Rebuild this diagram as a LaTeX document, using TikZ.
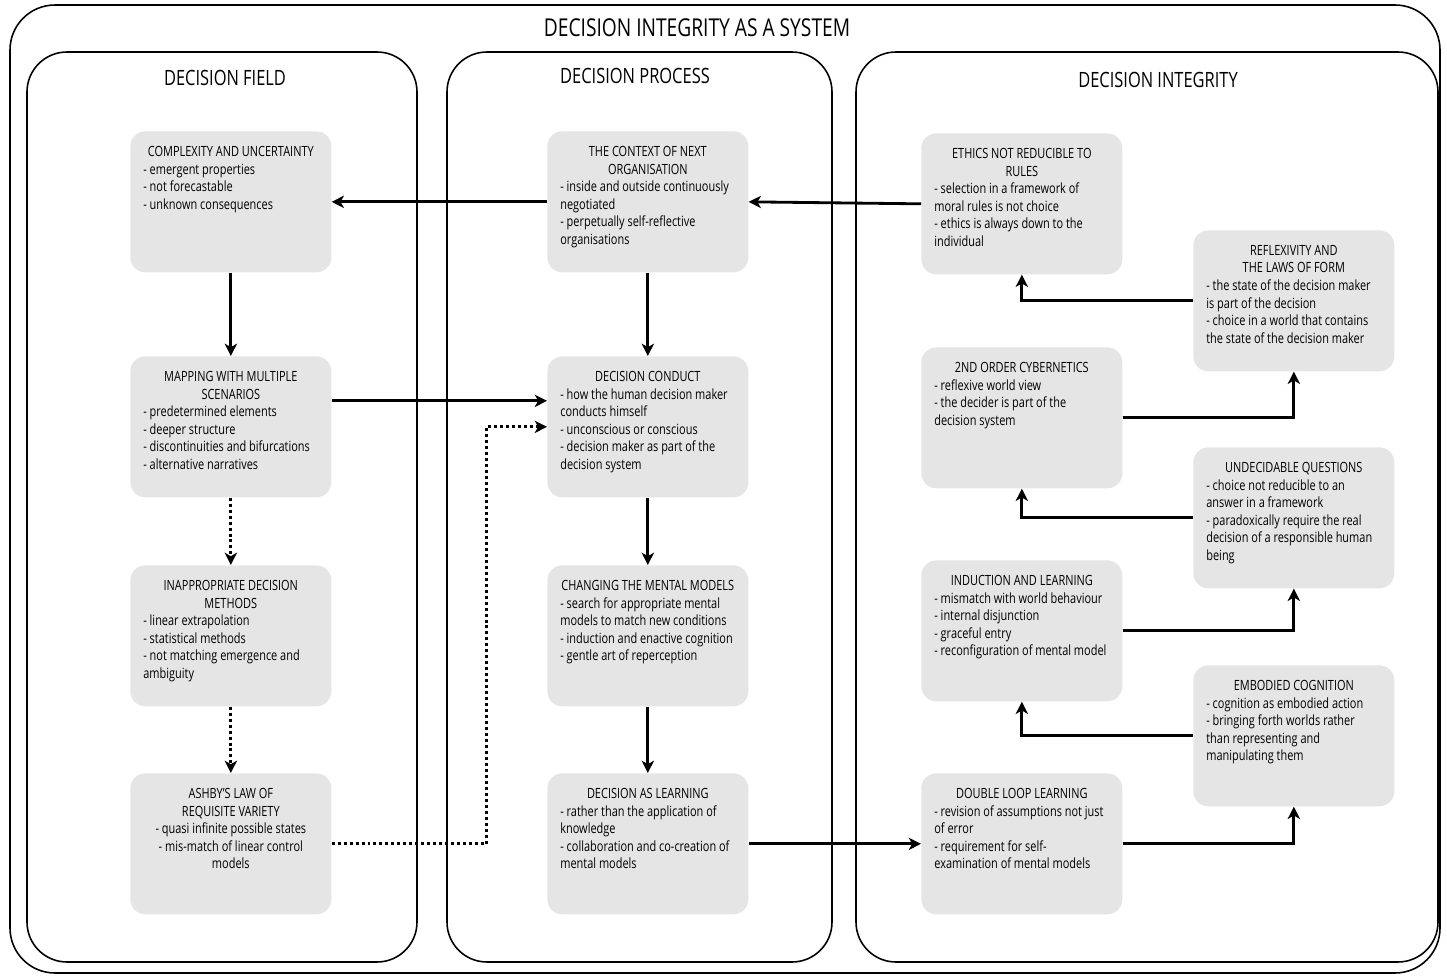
\documentclass[tikz,border=0pt]{standalone}
\usepackage{fontspec}
\setmainfont{Open Sans}[FakeStretch=0.78]
\usetikzlibrary{positioning}
\usetikzlibrary{arrows.meta}
\definecolor{cardgray}{HTML}{E5E5E5}
\newcommand{\cardtext}[2]{\parbox[t][2.22cm][t]{3.5cm}{\centering #1\par\raggedright #2}}

\begin{document}
\begin{tikzpicture}[x=0.02cm,y=-0.02cm,
  frame/.style={draw, line width=0.9pt},
  card/.style={fill=cardgray, rounded corners=0.3cm, inner xsep=0.26cm, inner ysep=0.3cm, anchor=north west,
    minimum width=4.02cm, font=\fontsize{8pt}{10pt}\selectfont},
  flow/.style={line width=1.6pt, -{Stealth[length=7pt,width=7pt,inset=2pt]}},
  hint/.style={flow, dash pattern=on 1.7pt off 1.7pt}]
\useasboundingbox (0,0) rectangle (1447,976);

% frames
\draw [frame, rounded corners=0.9cm] (10,5) rectangle (1440,973);
\draw [frame, rounded corners=0.8cm] (27,52) rectangle (417,962);
\draw [frame, rounded corners=0.8cm] (447,52) rectangle (832,962);
\draw [frame, rounded corners=0.8cm] (856,52) rectangle (1438,962);
\node [font=\fontsize{14pt}{16pt}\selectfont] (systitle) at (697,28) {DECISION INTEGRITY AS A SYSTEM};
\node [font=\fontsize{12pt}{14pt}\selectfont] (fieldtitle) at (225,78) {DECISION FIELD};
\node [font=\fontsize{12pt}{14pt}\selectfont] (processtitle) at (635,76) {DECISION PROCESS};
\node [font=\fontsize{12pt}{14pt}\selectfont] (integtitle) at (1158,80) {DECISION INTEGRITY};

% decision field
\node [card] (cplx) at (130,131) {\cardtext{COMPLEXITY AND UNCERTAINTY}{- emergent properties\\- not forecastable\\- unknown consequences}};
\node [card] (mapping) at (130,356) {\cardtext{MAPPING WITH MULTIPLE\\SCENARIOS}{- predetermined elements\\- deeper structure\\- discontinuities and bifurcations\\- alternative narratives}};
\node [card] (inapp) at (130,565) {\cardtext{INAPPROPRIATE DECISION\\METHODS}{- linear extrapolation\\- statistical methods\\- not matching emergence and\\ambiguity}};
\node [card] (ashby) at (130,773) {\cardtext{ASHBY'S LAW OF\\REQUISITE VARIETY}{\centering - quasi infinite possible states\\- mis-match of linear control\\models}};

% decision process
\node [card] (context) at (547,131) {\cardtext{THE CONTEXT OF NEXT\\ORGANISATION}{- inside and outside continuously\\negotiated\\- perpetually self-reflective\\organisations}};
\node [card] (conduct) at (547,356) {\cardtext{DECISION CONDUCT}{- how the human decision maker\\conducts himself\\- unconscious or conscious\\- decision maker as part of the\\decision system}};
\node [card] (mental) at (547,565) {\cardtext{CHANGING THE MENTAL MODELS}{- search for appropriate mental\\models to match new conditions\\- induction and enactive cognition\\- gentle art of reperception}};
\node [card] (learning) at (547,773) {\cardtext{DECISION AS LEARNING}{- rather than the application of\\knowledge\\- collaboration and co-creation of\\mental models}};

% decision integrity
\node [card] (ethics) at (921,133) {\cardtext{ETHICS NOT REDUCIBLE TO\\RULES}{- selection in a framework of\\moral rules is not choice\\- ethics is always down to the\\individual}};
\node [card] (cyber) at (921,347) {\cardtext{2ND ORDER CYBERNETICS}{- reflexive world view\\- the decider is part of the\\decision system}};
\node [card] (induct) at (921,560) {\cardtext{INDUCTION AND LEARNING}{- mismatch with world behaviour\\- internal disjunction\\- graceful entry\\- reconfiguration of mental model}};
\node [card] (dloop) at (921,773) {\cardtext{DOUBLE LOOP LEARNING}{- revision of assumptions not just\\of error\\- requirement for self-\\examination of mental models}};
\node [card] (reflex) at (1193,230) {\cardtext{REFLEXIVITY AND\\THE LAWS OF FORM}{- the state of the decision maker\\is part of the decision\\- choice in a world that contains\\the state of the decision maker}};
\node [card] (undec) at (1193,447) {\cardtext{UNDECIDABLE QUESTIONS}{- choice not reducible to an\\answer in a framework\\- paradoxically require the real\\decision of a responsible human\\being}};
\node [card] (embod) at (1193,665) {\cardtext{EMBODIED COGNITION}{- cognition as embodied action\\- bringing forth worlds rather\\than representing and\\manipulating them}};

% connectors
\draw [flow] (context.west) -- (cplx.east);
\draw [flow] (ethics.west) -- (context.east);
\draw [flow] (cplx.south) -- (mapping.north);
\draw [hint] (mapping.south) -- (inapp.north);
\draw [hint] (inapp.south) -- (ashby.north);
\draw [flow] ([yshift=0.52cm]mapping.east) -- ([yshift=0.52cm]conduct.west);
\draw [hint] (ashby.east) -- ++(155,0) |- (conduct.west);
\draw [flow] (context.south) -- (conduct.north);
\draw [flow] (conduct.south) -- (mental.north);
\draw [flow] (mental.south) -- (learning.north);
\draw [flow] (learning.east) -- (dloop.west);
\draw [flow] (dloop.east) -| (embod.south);
\draw [flow] (embod.west) -| (induct.south);
\draw [flow] (induct.east) -| (undec.south);
\draw [flow] (undec.west) -| (cyber.south);
\draw [flow] (cyber.east) -| (reflex.south);
\draw [flow] (reflex.west) -| (ethics.south);
\end{tikzpicture}
\end{document}
